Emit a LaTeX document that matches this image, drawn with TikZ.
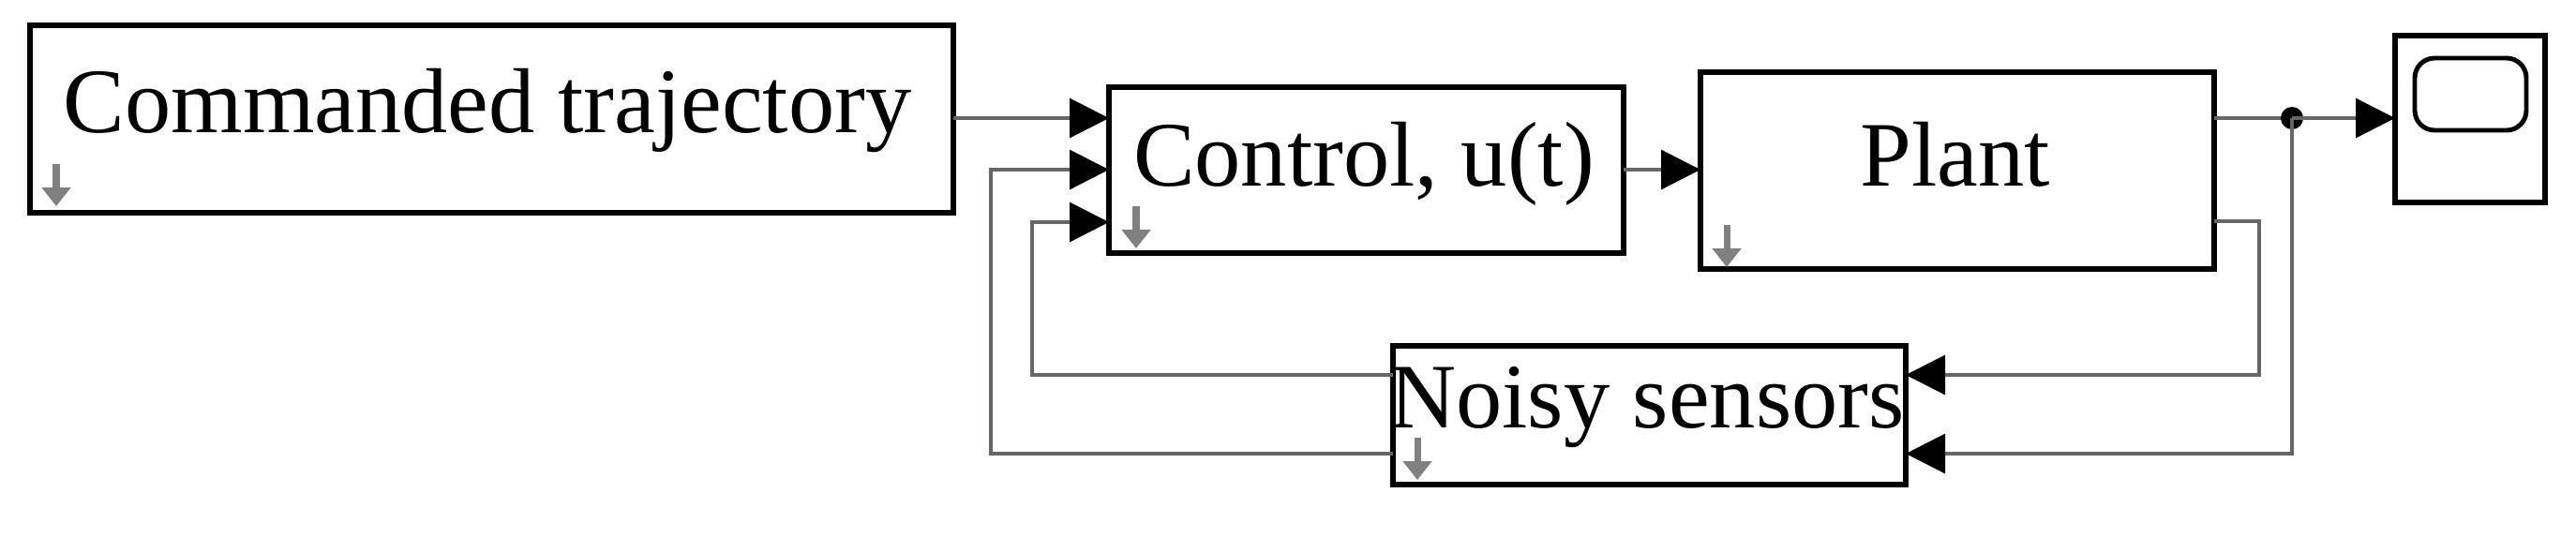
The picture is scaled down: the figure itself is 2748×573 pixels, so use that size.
\documentclass[tikz,border=0pt]{standalone}
\usepackage{fontspec}
\setmainfont{Liberation Serif}
\usetikzlibrary{arrows.meta}

\begin{document}
\begin{tikzpicture}[x=0.1mm,y=-0.1mm,
    block/.style={draw,line width=1.6pt,fill=white},
    label/.style={font={\fontsize{28}{32}\selectfont}},
    wire/.style={gray!80!black,line width=0.9pt},
    sig/.style={wire,-{Triangle[length=4.2mm,width=4.2mm,black]}},
    icon/.style={gray,line width=2pt,-{Triangle[length=2mm,width=3mm]}}]

    \useasboundingbox (0,0) rectangle (2748,573);

    % blocks
    \draw[block] (32,27) rectangle (1017,227);
    \draw[block] (1183,93) rectangle (1732,270);
    \draw[block] (1814,77) rectangle (2362,287);
    \draw[block] (2555,38) rectangle (2715,216);
    \draw[line width=1.4pt,rounded corners=6pt] (2576,62) rectangle (2695,139);
    \draw[block] (1486,369) rectangle (2033,517);

    \node[label] (cmd)   at (520,118) {Commanded trajectory};
    \node[label] (ctrl)  at (1455,175) {Control, u(t)};
    \node[label] (plant) at (2086,165) {Plant};
    \node[label] (noisy) at (1757,435) {Noisy sensors};

    % block icons
    \foreach \x/\y in {60/175,1212/220,1842/240,1512/467}
        \draw[icon] (\x,\y) -- (\x,\y+45);

    % signals
    \coordinate (branch) at (2445,126);
    \draw[sig] (1017,126) -- (1183,126);
    \draw[sig] (1732,181) -- (1814,181);
    \draw[wire] (2362,126) -- (branch);
    \fill (branch) circle (12);
    \draw[sig] (branch) -- (2555,126);
    \draw[sig] (2362,236) -| (2410,400) -- (2033,400);
    \draw[sig] (branch) |- (2033,484);
    \draw[sig] (1486,400) -| (1101,237) -- (1183,237);
    \draw[sig] (1486,484) -| (1057,181) -- (1183,181);
\end{tikzpicture}
\end{document}
